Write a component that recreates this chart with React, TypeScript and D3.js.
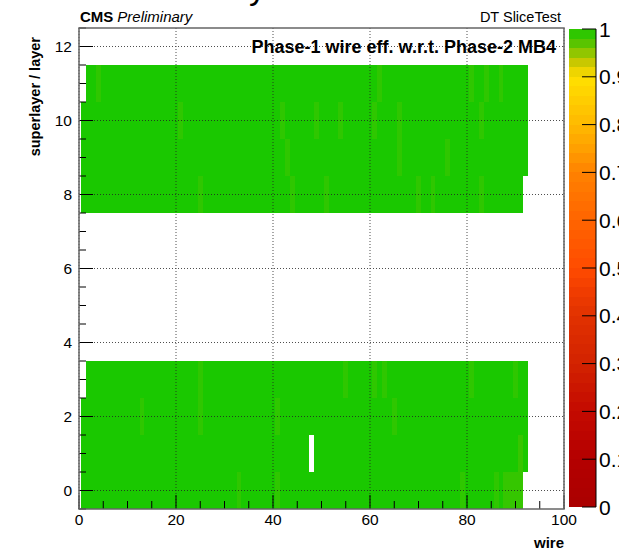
import React from 'react';
import * as d3 from 'd3';

// layers (superlayer/layer index) that have wires, with their wire ranges
const layers = [0, 1, 2, 3, 8, 9, 10, 11];
const firstWire = [1, 1, 1, 2, 1, 1, 1, 2];
const lastWire = [91, 92, 92, 92, 91, 92, 92, 92];

// cells below full efficiency: [layer, wire, efficiency]
const lowCells: [number, number, number][] = [
  [11, 4, 0.99], [11, 62, 0.99], [11, 81, 0.99], [11, 84, 0.99], [11, 87, 0.99],
  [10, 21, 0.99], [10, 42, 0.99], [10, 49, 0.99], [10, 54, 0.99], [10, 61, 0.99], [10, 66, 0.99], [10, 83, 0.99],
  [9, 43, 0.99], [9, 66, 0.99], [9, 76, 0.99],
  [8, 25, 0.99], [8, 44, 0.99], [8, 51, 0.99], [8, 70, 0.99], [8, 73, 0.99], [8, 83, 0.99],
  [3, 25, 0.99], [3, 55, 0.99], [3, 61, 0.99], [3, 63, 0.99], [3, 81, 0.99], [3, 90, 0.99],
  [2, 13, 0.99], [2, 25, 0.99], [2, 41, 0.99], [2, 65, 0.99],
  [1, 91, 0.986],
  [0, 33, 0.99], [0, 41, 0.99], [0, 79, 0.99], [0, 86, 0.99],
  [0, 88, 0.987], [0, 89, 0.987], [0, 90, 0.987], [0, 91, 0.987],
];
// cells with no entries
const deadCells: [number, number][] = [[1, 48]];

const xTicks = [0, 20, 40, 60, 80, 100];
const yTicks = [0, 2, 4, 6, 8, 10, 12];
const zTicks = [0, 0.1, 0.2, 0.3, 0.4, 0.5, 0.6, 0.7, 0.8, 0.9, 1];

// palette stops
const paletteStops = [0, 0.1, 0.2, 0.3, 0.4, 0.45, 0.5, 0.6, 0.65, 0.7, 0.75, 0.8, 0.85, 0.9, 0.92, 0.94, 0.96, 1];
const paletteColors = [
  '#aa0000', '#b40000', '#c30a00', '#d22200', '#e13200', '#f03c00', '#ff4b00', '#ff6400',
  '#ff7300', '#ff8200', '#ffa000', '#ffb900', '#ffcd00', '#ffe100', '#dcc800', '#b4c800',
  '#6ec300', '#1ac800',
];
const nContours = 50;

const W = 619;
const H = 550;
const font = '"Liberation Sans", Arial, Helvetica, sans-serif';

export default function App() {
  const x = d3.scaleLinear().domain([0, 100]).range([79, 564]);
  const y = d3.scaleLinear().domain([-0.5, 12.5]).range([509, 28]);
  const z = d3.scaleLinear().domain([0, 1]).range([507, 29]);
  const color = d3.scaleLinear<string>().domain(paletteStops).range(paletteColors).interpolate(d3.interpolateRgb);

  const cells: { l: number; w: number; v: number }[] = [];
  layers.forEach((l, i) => {
    d3.range(firstWire[i], lastWire[i] + 1).forEach((w) => {
      if (deadCells.some((d) => d[0] === l && d[1] === w)) return;
      const low = lowCells.find((c) => c[0] === l && c[1] === w);
      cells.push({ l, w, v: low ? low[2] : 1 });
    });
  });

  const xMinor = d3.range(0, 101, 5);
  const yMinor = d3.range(-0.5, 12.51, 0.5);
  const bands = d3.range(nContours).map((i) => ({ lo: i / nContours, hi: (i + 1) / nContours }));

  const [fx0, fx1] = x.range();
  const [fy0, fy1] = y.range();

  return (
    <div style={{ position: 'fixed', left: 0, top: 0 }}>
      <svg width={W} height={H} style={{ display: 'block', background: '#fff' }} fontFamily={font}>
        {/* histogram title, mostly above the canvas */}
        <text x={266} y={-1} fontSize={34} textAnchor="end">Efficiency</text>

        <g shapeRendering="crispEdges">
          {cells.map((c) => (
            <rect
              key={`${c.l}-${c.w}`}
              x={x(c.w - 0.5)}
              y={y(c.l + 0.5)}
              width={x(c.w + 0.5) - x(c.w - 0.5)}
              height={y(c.l - 0.5) - y(c.l + 0.5)}
              fill={color(c.v)}
            />
          ))}
        </g>

        {/* grid */}
        <g stroke="#222" strokeWidth={1} strokeDasharray="1,2" opacity={0.8}>
          {xTicks.map((t) => (
            <line key={`gx${t}`} x1={x(t)} x2={x(t)} y1={fy0} y2={fy1} />
          ))}
          {yTicks.map((t) => (
            <line key={`gy${t}`} x1={fx0} x2={fx1} y1={y(t)} y2={y(t)} />
          ))}
        </g>

        {/* ticks */}
        <g stroke="#000" strokeWidth={1}>
          {xMinor.map((t) => (
            <line key={`tx${t}`} x1={x(t)} x2={x(t)} y1={fy0} y2={fy0 - (t % 20 === 0 ? 14 : 8)} />
          ))}
          {yMinor.map((t) => (
            <line key={`ty${t}`} x1={fx0} x2={fx0 + (t % 2 === 0 ? 14 : 7)} y1={y(t)} y2={y(t)} />
          ))}
        </g>

        {/* frame */}
        <rect x={fx0} y={fy1} width={fx1 - fx0} height={fy0 - fy1} fill="none" stroke="#666" strokeWidth={1.5} />

        {/* tick labels */}
        <g fontSize={15.5} fill="#000">
          {xTicks.map((t) => (
            <text key={`lx${t}`} x={x(t)} y={525} textAnchor="middle">{t}</text>
          ))}
          {yTicks.map((t) => (
            <text key={`ly${t}`} x={72} y={y(t) + 5.5} textAnchor="end">{t}</text>
          ))}
        </g>

        <text x={564} y={548} fontSize={15} fontWeight="bold" textAnchor="end">wire</text>
        <text transform="translate(40,37) rotate(-90)" fontSize={14.5} fontWeight="bold" textAnchor="end">
          superlayer / layer
        </text>

        <text x={80} y={22} fontSize={15}>
          <tspan fontWeight="bold">CMS</tspan>
          <tspan fontStyle="italic" dx={4}>Preliminary</tspan>
        </text>
        <text x={561} y={22} fontSize={14.5} textAnchor="end">DT SliceTest</text>
        <text x={556} y={53} fontSize={18} fontWeight="bold" textAnchor="end">
          Phase-1 wire eff. w.r.t. Phase-2 MB4
        </text>

        {/* colour bar */}
        <g shapeRendering="crispEdges">
          {bands.map((b) => (
            <rect
              key={`b${b.lo}`}
              x={569}
              y={z(b.hi)}
              width={27}
              height={z(b.lo) - z(b.hi)}
              fill={color((b.lo + b.hi) / 2)}
            />
          ))}
        </g>
        <line x1={596} x2={596} y1={z(0)} y2={z(1)} stroke="#000" strokeWidth={1} />
        <g stroke="#000" strokeWidth={1}>
          {zTicks.map((t) => (
            <line key={`tz${t}`} x1={582} x2={596} y1={z(t)} y2={z(t)} />
          ))}
        </g>
        <g fontSize={21} fill="#000">
          {zTicks.map((t) => (
            <text key={`lz${t}`} x={599} y={z(t) + 7.5}>{d3.format('~g')(t)}</text>
          ))}
        </g>
      </svg>
    </div>
  );
}
